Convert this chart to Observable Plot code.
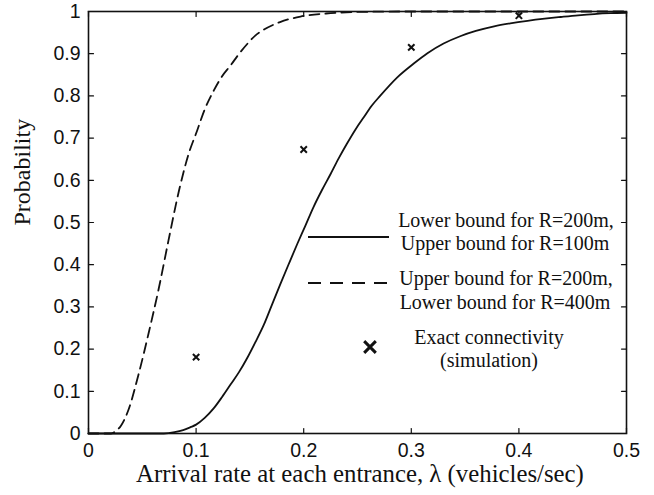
<!DOCTYPE html>
<html>
<head>
<meta charset="utf-8">
<script src="https://cdn.jsdelivr.net/npm/d3@7"></script>
<script src="https://cdn.jsdelivr.net/npm/@observablehq/plot@0.6"></script>
<style>
  html, body { margin: 0; padding: 0; background: #fff; }
  #chart { position: relative; width: 654px; height: 495px; }
</style>
</head>
<body>
<div id="chart"></div>
<script>
// Solid curve: Lower bound for R=200m, Upper bound for R=100m
const solidLambda = [0, 0.05, 0.07, 0.08, 0.088, 0.0948, 0.1, 0.108, 0.1165, 0.124, 0.132, 0.14, 0.1475, 0.155, 0.163, 0.17, 0.178, 0.186, 0.194, 0.2015, 0.209, 0.217, 0.225, 0.2325, 0.24, 0.248, 0.256, 0.263, 0.271, 0.287, 0.302, 0.315, 0.33, 0.346, 0.36, 0.377, 0.392, 0.408, 0.424, 0.439, 0.455, 0.47, 0.485, 0.5];
const solidProb   = [0, 0, 0, 0.003, 0.008, 0.015, 0.021, 0.037, 0.06, 0.086, 0.116, 0.146, 0.179, 0.216, 0.258, 0.302, 0.352, 0.401, 0.449, 0.492, 0.536, 0.577, 0.615, 0.652, 0.686, 0.72, 0.75, 0.776, 0.80, 0.844, 0.876, 0.901, 0.924, 0.942, 0.954, 0.965, 0.972, 0.978, 0.983, 0.987, 0.991, 0.994, 0.996, 0.997];

// Dashed curve: Upper bound for R=200m, Lower bound for R=400m
const dashLambda = [0, 0.015, 0.021, 0.025, 0.03, 0.037, 0.0465, 0.0558, 0.065, 0.0743, 0.0836, 0.093, 0.101, 0.108, 0.1165, 0.124, 0.132, 0.14, 0.1475, 0.155, 0.163, 0.178, 0.197, 0.225, 0.25, 0.3, 0.4, 0.5];
const dashProb   = [0, 0, 0, 0.005, 0.018, 0.055, 0.14, 0.237, 0.34, 0.457, 0.57, 0.662, 0.718, 0.768, 0.813, 0.846, 0.872, 0.9, 0.923, 0.943, 0.957, 0.975, 0.988, 0.996, 0.999, 1, 1, 1];

// Exact connectivity (simulation)
const simLambda = [0.1, 0.2, 0.3, 0.4];
const simProb   = [0.181, 0.673, 0.915, 0.99];

const xTicks = [0, 0.1, 0.2, 0.3, 0.4, 0.5];
const yTicks = [0, 0.1, 0.2, 0.3, 0.4, 0.5, 0.6, 0.7, 0.8, 0.9, 1];

const xLabel = "Arrival rate at each entrance, λ (vehicles/sec)";
const yLabel = "Probability";
const legendSolid = ["Lower bound for R=200m,", "Upper bound for R=100m"];
const legendDash = ["Upper bound for R=200m,", "Lower bound for R=400m"];
const legendSim = ["Exact connectivity", "(simulation)"];

const solid = solidLambda.map((x, i) => ({x, y: solidProb[i]}));
const dashed = dashLambda.map((x, i) => ({x, y: dashProb[i]}));
const sim = simLambda.map((x, i) => ({x, y: simProb[i]}));

const tickShape = {draw(ctx, l) { ctx.moveTo(0, 0); ctx.lineTo(0, -l); }};
const fmt = d => (d === 0 ? "0" : d === 1 ? "1" : d.toFixed(1));
const serif = "'Liberation Serif', 'Times New Roman', serif";

const chart = Plot.plot({
  width: 654,
  height: 495,
  marginLeft: 88,
  marginRight: 28,
  marginTop: 11,
  marginBottom: 62,
  style: {fontFamily: "'Liberation Sans', Arial, sans-serif", fontSize: "19.5px", color: "#111", background: "#fff"},
  x: {domain: [0, 0.5]},
  y: {domain: [0, 1]},
  marks: [
    Plot.axisX(xTicks, {tickSize: 0, tickPadding: 10, tickFormat: fmt, label: null, fill: "#111"}),
    Plot.axisY(yTicks, {tickSize: 0, tickPadding: 8, tickFormat: fmt, label: null, fill: "#111"}),
    // inward ticks on all four sides
    Plot.vector(xTicks, {x: d => d, frameAnchor: "bottom", rotate: 0, length: 5, anchor: "start", shape: tickShape, stroke: "#111", strokeWidth: 1.2}),
    Plot.vector(xTicks, {x: d => d, frameAnchor: "top", rotate: 180, length: 5, anchor: "start", shape: tickShape, stroke: "#111", strokeWidth: 1.2}),
    Plot.vector(yTicks, {y: d => d, frameAnchor: "left", rotate: 90, length: 5, anchor: "start", shape: tickShape, stroke: "#111", strokeWidth: 1.2}),
    Plot.vector(yTicks, {y: d => d, frameAnchor: "right", rotate: 270, length: 5, anchor: "start", shape: tickShape, stroke: "#111", strokeWidth: 1.2}),
    Plot.line(solid, {x: "x", y: "y", stroke: "#111", strokeWidth: 1.8, curve: "monotone-x"}),
    Plot.line(dashed, {x: "x", y: "y", stroke: "#111", strokeWidth: 1.8, strokeDasharray: "10,6", curve: "monotone-x"}),
    Plot.dot(sim, {x: "x", y: "y", symbol: "times", r: 3, stroke: "#111", strokeWidth: 2}),
    Plot.frame({stroke: "#111", strokeWidth: 1.6}),
    Plot.text([xLabel], {text: d => d, frameAnchor: "bottom", dx: 2.5, dy: 48, fontFamily: serif, fontSize: 24.8, fill: "#111"}),
    Plot.text([yLabel], {text: d => d, frameAnchor: "left", dx: -66, dy: 3, rotate: -90, fontFamily: serif, fontSize: 24, fill: "#111"})
  ]
});

document.getElementById("chart").appendChild(chart);

// Legend drawn inside the plot area
const svg = d3.select(chart);
const lg = svg.append("g").attr("font-family", serif).attr("font-size", 20).attr("fill", "#111").attr("text-anchor", "middle");
lg.append("line").attr("x1", 308).attr("x2", 389).attr("y1", 237).attr("y2", 237).attr("stroke", "#111").attr("stroke-width", 2.2);
lg.append("text").attr("x", 506).attr("y", 220).attr("dy", "0.35em").text(legendSolid[0]);
lg.append("text").attr("x", 505).attr("y", 243).attr("dy", "0.35em").text(legendSolid[1]);
lg.append("line").attr("x1", 308).attr("x2", 389).attr("y1", 283).attr("y2", 283).attr("stroke", "#111").attr("stroke-width", 2.2).attr("stroke-dasharray", "13,9");
lg.append("text").attr("x", 506).attr("y", 278).attr("dy", "0.35em").text(legendDash[0]);
lg.append("text").attr("x", 505).attr("y", 302).attr("dy", "0.35em").text(legendDash[1]);
lg.append("path").attr("d", d3.symbol(d3.symbolTimes, 90)()).attr("transform", "translate(370,347)").attr("stroke", "#111").attr("stroke-width", 3).attr("fill", "none");
lg.append("text").attr("x", 489).attr("y", 337).attr("dy", "0.35em").text(legendSim[0]);
lg.append("text").attr("x", 489).attr("y", 360).attr("dy", "0.35em").text(legendSim[1]);
</script>
</body>
</html>
